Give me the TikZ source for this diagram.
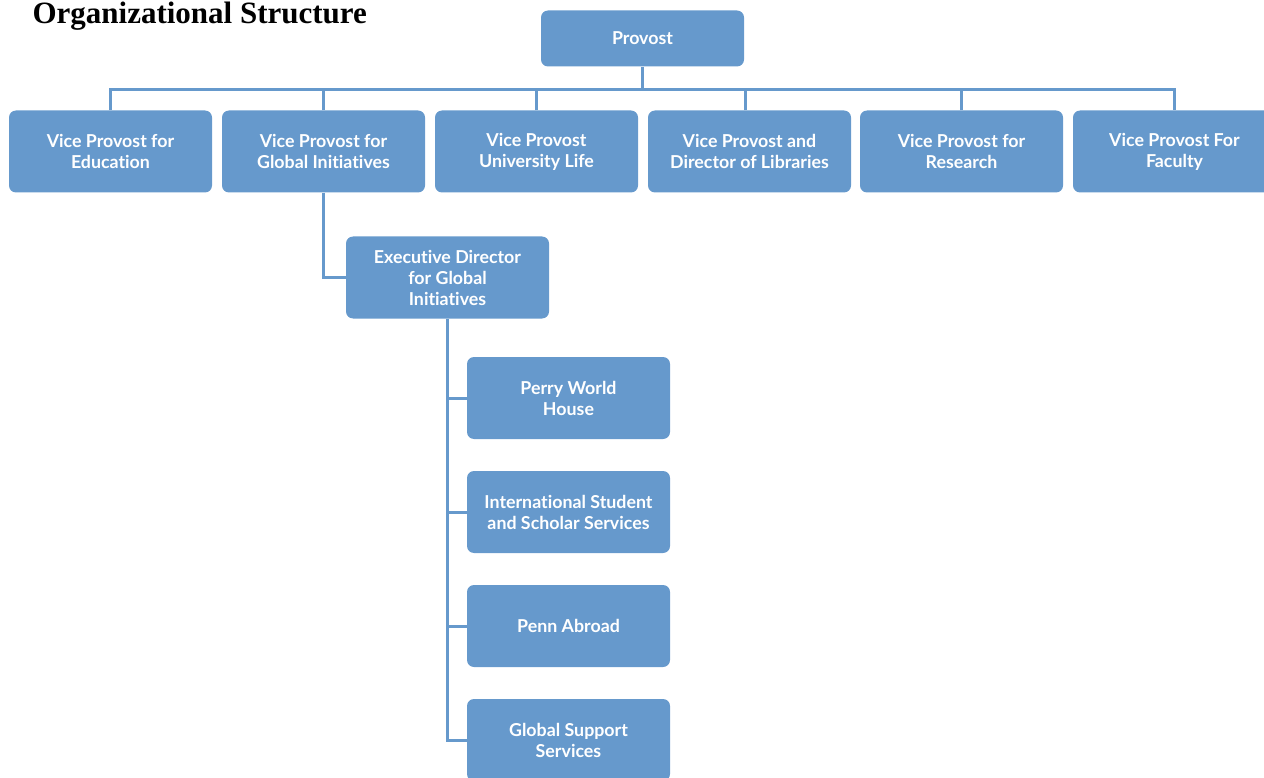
\documentclass[tikz,border=0pt]{standalone}
\usepackage{fontspec}
\setmainfont{Liberation Serif}
\newfontfamily\boxfont[Ligatures={NoCommon,NoRare}]{Lato}
\definecolor{penn}{HTML}{6699CC}
\begin{document}
\begin{tikzpicture}[x=1pt,y=-1pt,
  orgbox/.style={fill=penn, rounded corners=7pt, minimum width=203pt, minimum height=82pt,
    text=white, align=center, font=\boxfont\bfseries\fontsize{17.8}{21}\selectfont, inner sep=2pt},
  topbox/.style={orgbox, minimum height=56pt},
  link/.style={draw=penn, line width=3pt}]
\useasboundingbox (0,0) rectangle (1264,778);
\node[anchor=base west, font=\bfseries\fontsize{31}{33}\selectfont] (title) at (29,24) {Organizational Structure};
\node[topbox] (provost) at (642.5,38.5) {Provost};
\node[orgbox] (vp1) at (110.5,151.5) {Vice Provost for\\Education};
\node[orgbox] (vp2) at (323.5,151.5) {Vice Provost for\\Global Initiatives};
\node[orgbox] (vp3) at (536.5,151.5) {Vice Provost\\University Life};
\node[orgbox] (vp4) at (749.5,151.5) {Vice Provost and\\Director of Libraries};
\node[orgbox] (vp5) at (961.5,151.5) {Vice Provost for\\Research};
\node[orgbox] (vp6) at (1174.5,151.5) {Vice Provost For\\Faculty};
\node[orgbox] (exec) at (447.5,277.5) {Executive Director\\for Global\\Initiatives};
\node[orgbox] (perry) at (568.5,398) {Perry World\\House};
\node[orgbox] (isss) at (568.5,512) {International Student\\and Scholar Services};
\node[orgbox] (abroad) at (568.5,626) {Penn Abroad};
\node[orgbox] (gss) at (568.5,740) {Global Support\\Services};
\coordinate (bus) at (0,90);
\draw[link] (provost.south) -- (provost.south |- bus);
\draw[link] (vp1.north) -- (vp1.north |- bus) -- (vp6.north |- bus) -- (vp6.north);
\foreach \n in {vp2,vp3,vp5} \draw[link] (\n.north) -- (\n.north |- bus);
\draw[link] ([xshift=-4.5pt]vp4.north) -- ([xshift=-4.5pt]vp4.north |- bus);
\draw[link] (vp2.south) |- (exec.west);
\draw[link] (exec.south) |- (gss.west);
\foreach \n in {perry,isss,abroad} \draw[link] (exec.south |- \n.west) -- (\n.west);
\end{tikzpicture}
\end{document}
